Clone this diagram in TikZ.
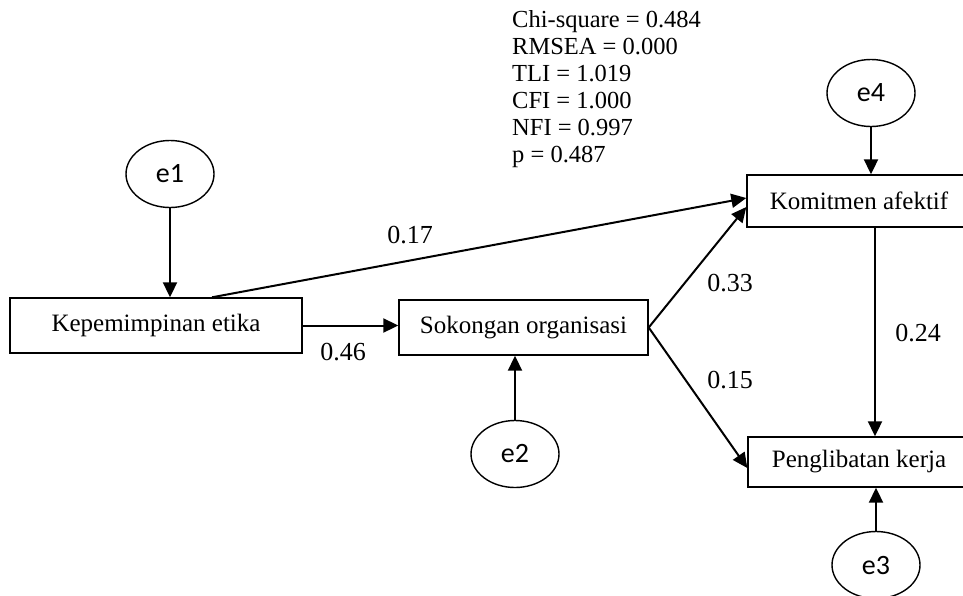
\documentclass[tikz,border=0pt]{standalone}
\usepackage{fontspec}
\setmainfont{Liberation Serif}
\newfontfamily\errfont{Carlito}
\usetikzlibrary{arrows.meta,shapes.geometric}
\tikzset{
  varbox/.style={draw, line width=1.4pt, inner sep=0pt, font=\fontsize{25}{28}\selectfont},
  errnode/.style={draw, ellipse, line width=1.4pt, minimum width=88pt, minimum height=67pt, inner sep=0pt, font=\errfont\fontsize{28}{32}\selectfont},
  path/.style={line width=2pt, -{Triangle[length=15pt,width=14pt]}},
  coef/.style={font=\fontsize{26}{29}\selectfont, inner sep=0pt},
  stat/.style={font=\fontsize{24.5}{27}\selectfont, inner sep=0pt, anchor=base west}
}
\begin{document}
\begin{tikzpicture}[x=1pt,y=-1pt]
\clip (0,0) rectangle (963,595);
% variables
\node[varbox, minimum width=292pt, minimum height=55pt] (kep) at (156,325.5) {Kepemimpinan etika};
\node[varbox, minimum width=249pt, minimum height=55pt] (sok) at (523.5,327.5) {Sokongan organisasi};
\node[varbox, minimum width=224pt, minimum height=52pt] (kom) at (859,201) {Komitmen afektif};
\node[varbox, minimum width=222pt, minimum height=50pt] (pen) at (859,462) {Penglibatan kerja};
% error terms
\node[errnode] (e1) at (170,174) {e1};
\node[errnode] (e2) at (515,454) {e2};
\node[errnode] (e3) at (876,565) {e3};
\node[errnode] (e4) at (871,93) {e4};
% fit statistics
\node[stat] (s1) at (512,27) {Chi-square = 0.484};
\node[stat] (s2) at (512,54) {RMSEA = 0.000};
\node[stat] (s3) at (512,81) {TLI = 1.019};
\node[stat] (s4) at (512,108) {CFI = 1.000};
\node[stat] (s5) at (512,135) {NFI = 0.997};
\node[stat] (s6) at (512,162) {p = 0.487};
% paths
\draw[path] (e1.south) -- (e1.south |- kep.north);
\draw[path] (e4.south) -- (e4.south |- kom.north);
\draw[path] (e2.north) -- (e2.north |- sok.south);
\draw[path] (e3.north) -- (e3.north |- pen.south);
\draw[path] (kep.east) -- (kep.east -| sok.west);
\draw[path] ([xshift=56pt]kep.north) -- ([yshift=3pt]kom.west);
\draw[path] (sok.east) -- ([yshift=-6pt]kom.west);
\draw[path] (sok.east) -- ([yshift=-6pt]pen.west);
\draw[path] ([xshift=16pt]kom.south) -- ([xshift=16pt]kom.south |- pen.north);
% coefficients
\node[coef] (c17) at (410,235) {0.17};
\node[coef] (c46) at (343,352) {0.46};
\node[coef] (c33) at (730,283) {0.33};
\node[coef] (c15) at (730,380) {0.15};
\node[coef] (c24) at (918,333) {0.24};
\end{tikzpicture}
\end{document}
